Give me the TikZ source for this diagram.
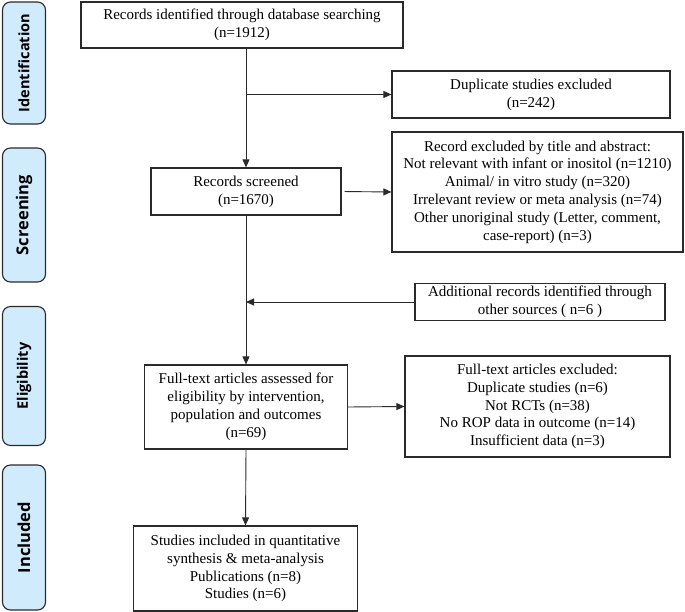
\documentclass[tikz,border=0pt]{standalone}
\usepackage{fontspec}
\setmainfont{Liberation Serif}
\newfontfamily\labfont{Open Sans}
\usetikzlibrary{arrows.meta}
\definecolor{labfill}{HTML}{CFEBFC}
\definecolor{edgecol}{HTML}{2A2A2A}
\begin{document}
\begin{tikzpicture}[x=1pt,y=-1pt,
  box/.style={draw=edgecol,line width=1.2pt,fill=white,align=center,inner sep=0pt,
    font=\fontsize{15}{17.8}\selectfont},
  lab/.style={draw=edgecol,line width=1.1pt,fill=labfill,rounded corners=8pt,
    minimum width=43pt,inner sep=0pt},
  labtext/.style={rotate=90,inner sep=0pt,font=\labfont\bfseries},
  arr/.style={draw=edgecol,line width=0.9pt,-{Triangle[length=8pt,width=7pt]}}]
\useasboundingbox (0,0) rectangle (685,612);
% phase labels
\node[lab,minimum height=122pt] (Lid) at (24,63) {};
\node[labtext,font=\labfont\bfseries\fontsize{14.5}{17}\selectfont] (Tid) at (Lid.center) {Identification};
\node[lab,minimum height=134pt] (Lsc) at (24,215) {};
\node[labtext,font=\labfont\bfseries\fontsize{16.5}{19}\selectfont] (Tsc) at (Lsc.center) {Screening};
\node[lab,minimum height=139pt] (Lel) at (24,376) {};
\node[labtext,font=\labfont\bfseries\fontsize{14.5}{17}\selectfont] (Tel) at (Lel.center) {Eligibility};
\node[lab,minimum height=145pt] (Lin) at (24,537.5) {};
\node[labtext,font=\labfont\bfseries\fontsize{16.5}{19}\selectfont] (Tin) at (Lin.center) {Included};
% boxes
\node[box,minimum width=322pt,minimum height=46pt] (top) at (242,25)
  {Records identified through database searching\\(n=1912)};
\node[box,minimum width=278pt,minimum height=47pt] (dup) at (531,94.5)
  {Duplicate studies excluded\\(n=242)};
\node[box,minimum width=190pt,minimum height=47pt] (scr) at (246,191.5)
  {Records screened\\(n=1670)};
\node[box,minimum width=291pt,minimum height=120pt] (exc) at (537.5,192)
  {Record excluded by title and abstract:\\Not relevant with infant or inositol (n=1210)\\Animal/ in vitro study (n=320)\\Irrelevant review or meta analysis (n=74)\\Other unoriginal study (Letter, comment,\\case-report) (n=3)};
\node[box,minimum width=250pt,minimum height=37pt] (add) at (540,302)
  {Additional records identified through\\other sources ( n=6 )};
\node[box,minimum width=203pt,minimum height=84pt] (ft) at (246,407)
  {Full-text articles assessed for\\eligibility by intervention,\\population and outcomes\\(n=69)};
\node[box,minimum width=265pt,minimum height=101pt] (fte) at (537.5,406.5)
  {Full-text articles excluded:\\Duplicate studies (n=6)\\Not RCTs (n=38)\\No ROP data in outcome (n=14)\\Insufficient data (n=3)};
\node[box,minimum width=224pt,minimum height=85pt] (inc) at (245.5,568.5)
  {Studies included in quantitative\\synthesis \& meta-analysis\\Publications (n=8)\\Studies (n=6)};
% connectors
\draw[arr] (scr.north |- top.south) -- (scr.north);
\draw[arr] (scr.north |- dup.west) -- (dup.west);
\draw[arr,shorten <=3pt] (scr.east) -- (exc.west);
\draw[arr] (add.west) -- (add.west -| scr.south);
\draw[arr] (scr.south) -- (ft.north);
\draw[arr] (ft.east) -- (fte.west);
\draw[arr] (ft.south) -- (inc.north);
\end{tikzpicture}
\end{document}
